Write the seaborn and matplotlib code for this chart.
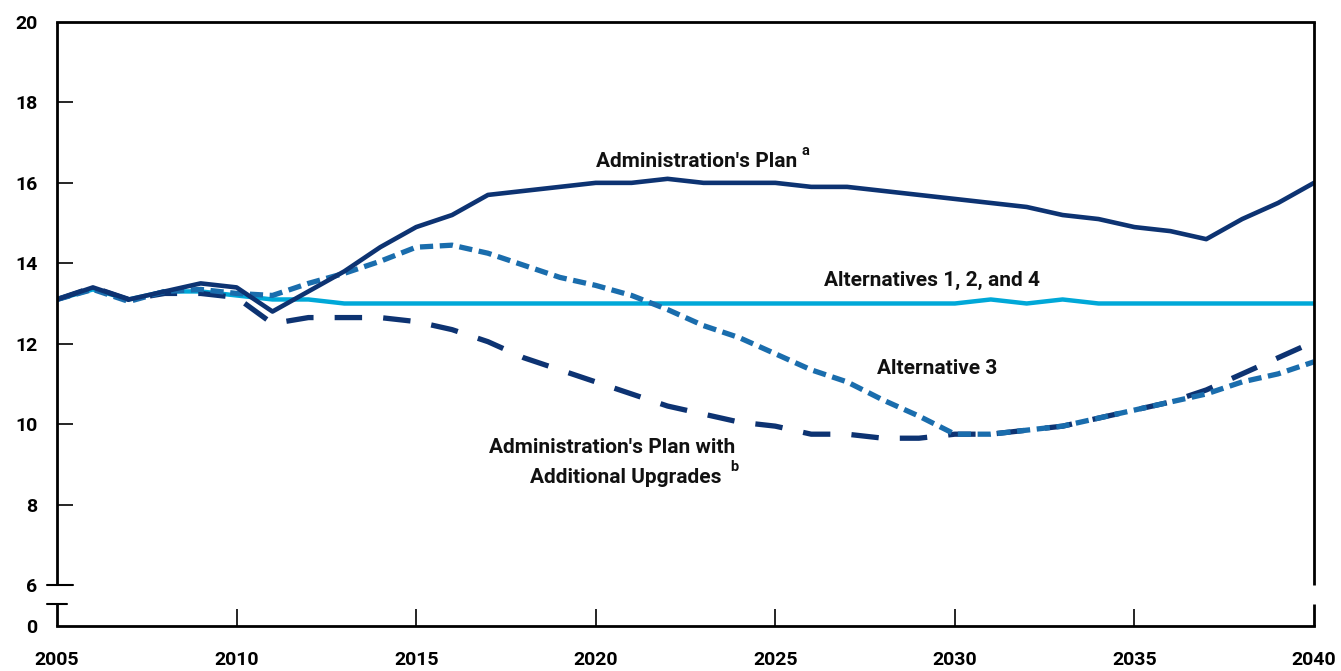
import numpy as np
import pandas as pd
import matplotlib
matplotlib.use("Agg")
import matplotlib.pyplot as plt
import matplotlib.transforms as mtransforms
import seaborn as sns

years = list(range(2005, 2041))

admin_plan = [13.1, 13.4, 13.1, 13.3, 13.5, 13.4, 12.8, 13.3, 13.8, 14.4,
              14.9, 15.2, 15.7, 15.8, 15.9, 16.0, 16.0, 16.1, 16.0, 16.0,
              16.0, 15.9, 15.9, 15.8, 15.7, 15.6, 15.5, 15.4, 15.2, 15.1,
              14.9, 14.8, 14.6, 15.1, 15.5, 16.0]

alts_124 = [13.1, 13.35, 13.1, 13.3, 13.3, 13.2, 13.1, 13.1, 13.0, 13.0,
            13.0, 13.0, 13.0, 13.0, 13.0, 13.0, 13.0, 13.0, 13.0, 13.0,
            13.0, 13.0, 13.0, 13.0, 13.0, 13.0, 13.1, 13.0, 13.1, 13.0,
            13.0, 13.0, 13.0, 13.0, 13.0, 13.0]

alt_3 = [13.1, 13.35, 13.05, 13.3, 13.35, 13.25, 13.2, 13.5, 13.75, 14.05,
         14.4, 14.45, 14.25, 13.95, 13.65, 13.45, 13.2, 12.85, 12.45, 12.15,
         11.75, 11.35, 11.05, 10.6, 10.2, 9.75, 9.75, 9.85, 9.95, 10.15,
         10.35, 10.55, 10.75, 11.05, 11.25, 11.55]

admin_upgrades = [13.1, 13.4, 13.1, 13.25, 13.25, 13.15, 12.5, 12.65, 12.65, 12.65,
                  12.55, 12.35, 12.05, 11.65, 11.35, 11.05, 10.75, 10.45, 10.25, 10.05,
                  9.95, 9.75, 9.75, 9.65, 9.65, 9.75, 9.75, 9.85, 9.95, 10.15,
                  10.35, 10.55, 10.85, 11.25, 11.65, 12.05]

x_ticks = [2005, 2010, 2015, 2020, 2025, 2030, 2035, 2040]
y_tick_values = [6, 8, 10, 12, 14, 16, 18, 20]
y_tick_labels = ["6", "8", "10", "12", "14", "16", "18", "20"]
zero_label = "0"

navy = "#0d3372"
cyan = "#00a8d8"
midblue = "#1a6dad"

sns.set_theme(style="white")
plt.rcParams["font.family"] = ["Liberation Sans Narrow", "Roboto", "DejaVu Sans"]
plt.rcParams["font.weight"] = "bold"

fig = plt.figure(figsize=(13.41, 6.71), dpi=100)
ax = fig.add_axes([57 / 1341, 1 - 626 / 671, (1314 - 57) / 1341, (626 - 22) / 671])

df = pd.DataFrame({"year": years, "admin": admin_plan, "alts": alts_124,
                   "alt3": alt_3, "upg": admin_upgrades})

sns.lineplot(data=df, x="year", y="alts", ax=ax, color=cyan, lw=3.2)
sns.lineplot(data=df, x="year", y="upg", ax=ax, color=navy, lw=3.8).lines[-1].set_dashes([5.2, 4.0])
sns.lineplot(data=df, x="year", y="alt3", ax=ax, color=midblue, lw=3.8).lines[-1].set_dashes([2.5, 1.25])
sns.lineplot(data=df, x="year", y="admin", ax=ax, color=navy, lw=3.3)

# broken y axis: "0" shown just below the break
y0 = 6 - 41 / 40.2
ybreak = 5.53
ax.set_xlim(2005, 2040)
ax.set_ylim(y0, 20)
ax.set_xticks(x_ticks)
ax.set_xticklabels([str(v) for v in x_ticks], fontsize=14, fontweight="bold")
ax.set_yticks([y0] + y_tick_values)
ax.set_yticklabels([zero_label] + y_tick_labels, fontsize=14, fontweight="bold")
ax.set_xlabel("")
ax.set_ylabel("")
ax.tick_params(axis="y", which="major", left=True, direction="in", length=11.5, width=1.2,
               pad=14, colors="black")
ax.tick_params(axis="x", which="major", bottom=True, direction="in", length=12, width=1.2,
               pad=18, colors="black")
ax.yaxis.get_major_ticks()[0].tick1line.set_visible(False)
ax.yaxis.get_major_ticks()[-1].tick1line.set_visible(False)
ax.xaxis.get_major_ticks()[0].tick1line.set_visible(False)
ax.xaxis.get_major_ticks()[-1].tick1line.set_visible(False)

for s in ["left", "right"]:
    ax.spines[s].set_visible(False)
for s in ["top", "bottom"]:
    ax.spines[s].set_color("black")
    ax.spines[s].set_linewidth(2.0)

trans = mtransforms.blended_transform_factory(ax.transAxes, ax.transData)
for xa in (0, 1):
    ax.plot([xa, xa], [6, 20], transform=trans, color="black", lw=2.0, clip_on=False,
            solid_capstyle="butt")
    ax.plot([xa, xa], [y0, ybreak], transform=trans, color="black", lw=2.0, clip_on=False,
            solid_capstyle="butt")
# break caps on left axis
ax.plot([-10 / 1257, 16 / 1257], [6, 6], transform=trans, color="black", lw=1.5, clip_on=False)
ax.plot([-10 / 1257, 10 / 1257], [ybreak, ybreak], transform=trans, color="black", lw=1.5, clip_on=False)

tkw = dict(fontsize=15, fontweight="bold", color="#111111", ha="center", va="center")
ax.text(2022.82, 16.52, "Administration's Plan", **tkw)
ax.text(2025.85, 16.78, "a", fontsize=10.5, fontweight="bold", color="#111111", ha="center", va="center")
ax.text(2029.37, 13.58, "Alternatives 1, 2, and 4", **tkw)
ax.text(2029.5, 11.39, "Alternative 3", **tkw)
ax.text(2020.46, 9.43, "Administration's Plan with", **tkw)
ax.text(2020.85, 8.68, "Additional Upgrades", **tkw)
ax.text(2023.85, 8.93, "b", fontsize=10.5, fontweight="bold", color="#111111", ha="center", va="center")

fig.savefig("out.png", dpi=100)
